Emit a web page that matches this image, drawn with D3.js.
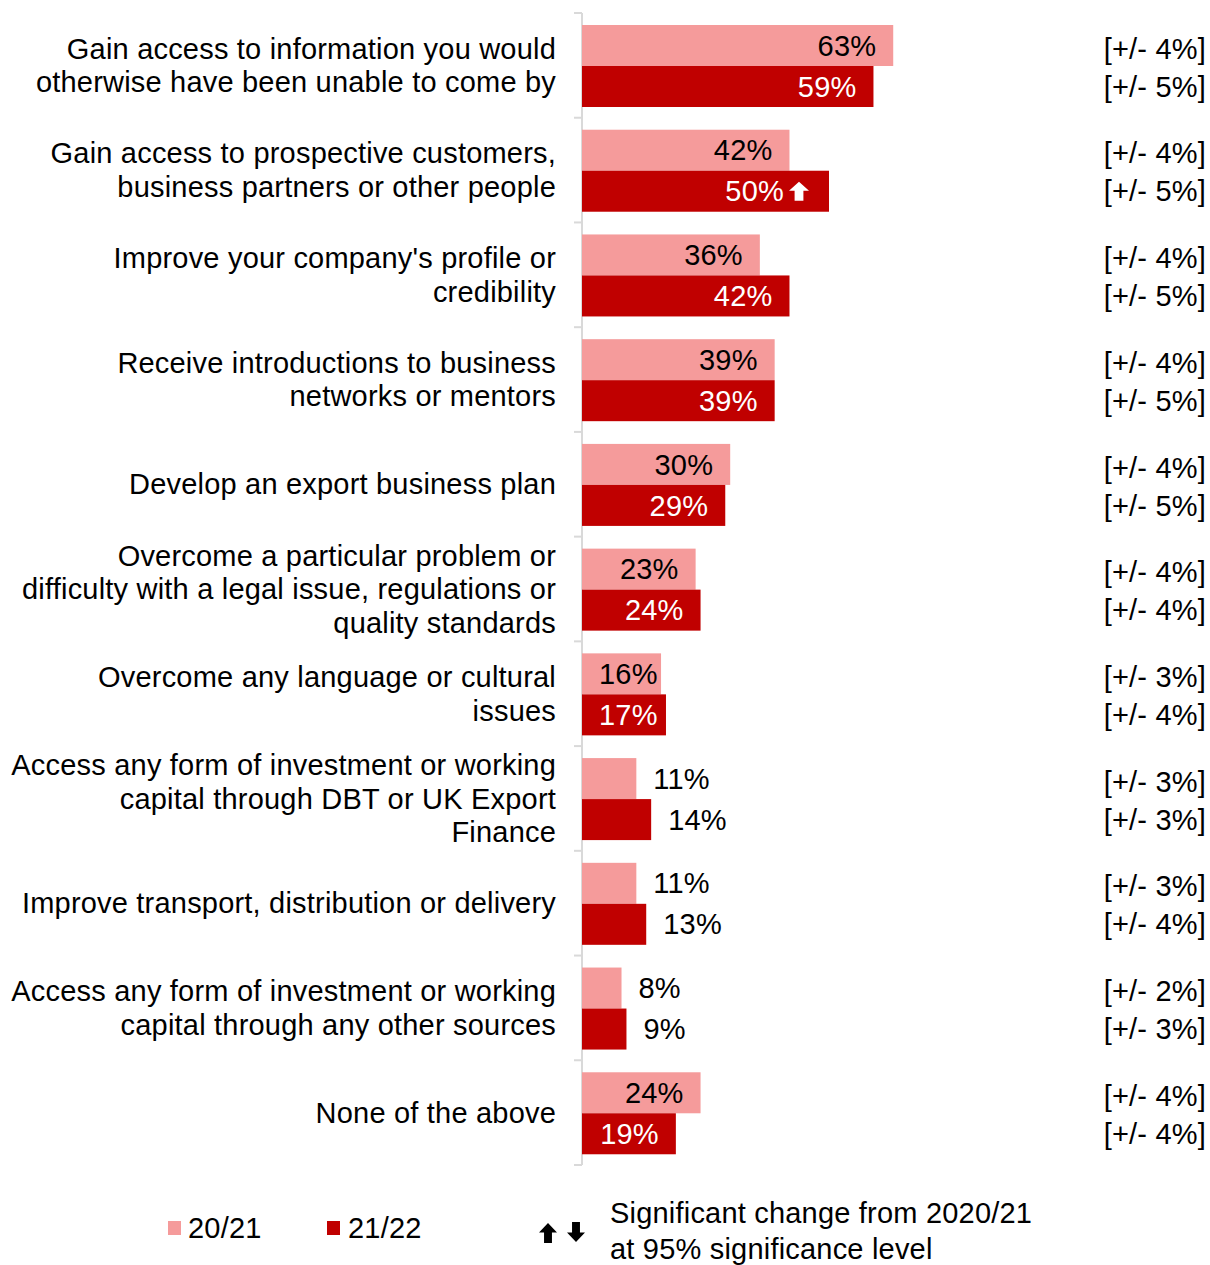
<!DOCTYPE html>
<html>
<head>
<meta charset="utf-8">
<script src="https://cdn.jsdelivr.net/npm/d3@7"></script>
<style>
  html, body { margin: 0; padding: 0; background: #fff; }
  svg { display: block; font-family: "Liberation Sans", Arial, sans-serif; letter-spacing: 0.2px; }
</style>
</head>
<body>
<svg id="chart" width="1210" height="1265"></svg>
<script>
// Reasons for using the service, share of respondents, two survey waves
const categories = [
  ["Gain access to information you would", "otherwise have been unable to come by"],
  ["Gain access to prospective customers,", "business partners or other people"],
  ["Improve your company's profile or", "credibility"],
  ["Receive introductions to business", "networks or mentors"],
  ["Develop an export business plan"],
  ["Overcome a particular problem or", "difficulty with a legal issue, regulations or", "quality standards"],
  ["Overcome any language or cultural", "issues"],
  ["Access any form of investment or working", "capital through DBT or UK Export", "Finance"],
  ["Improve transport, distribution or delivery"],
  ["Access any form of investment or working", "capital through any other sources"],
  ["None of the above"]
];
const seriesNames = ["20/21", "21/22"];
const values2021 = [63, 42, 36, 39, 30, 23, 16, 11, 11, 8, 24];
const values2122 = [59, 50, 42, 39, 29, 24, 17, 14, 13, 9, 19];
// Significant change flags for 21/22 vs 2020/21 ("up", "down" or null)
const sigChange = [null, "up", null, null, null, null, null, null, null, null, null];
const moe2021 = ["4%", "4%", "4%", "4%", "4%", "4%", "3%", "3%", "3%", "2%", "4%"];
const moe2122 = ["5%", "5%", "5%", "5%", "5%", "4%", "4%", "3%", "4%", "3%", "4%"];
const legendNote = ["Significant change from 2020/21", "at 95% significance level"];

const colors = { "20/21": "#f59b9b", "21/22": "#c00000" };
const FONT = 29;

const svg = d3.select("#chart");
const x0 = 582;
const x = d3.scaleLinear().domain([0, 100]).range([x0, x0 + 494]);
const idx = d3.range(categories.length);
const y = d3.scaleBand().domain(idx).range([13, 1165]).padding(0);
const yInner = d3.scaleBand().domain(seriesNames).range([12, 94]).padding(0);

const rows = idx.map(i => ({
  i,
  label: categories[i],
  bars: [
    { s: "20/21", v: values2021[i], moe: moe2021[i], sig: null },
    { s: "21/22", v: values2122[i], moe: moe2122[i], sig: sigChange[i] }
  ]
}));

// Category axis: light grey line with ticks at the band boundaries
const axisG = svg.append("g");
axisG.append("line")
  .attr("x1", x0).attr("x2", x0)
  .attr("y1", y.range()[0]).attr("y2", y.range()[1])
  .attr("stroke", "#d9d9d9").attr("stroke-width", 2);
const bounds = idx.map(i => y(i)).concat([y.range()[1]]);
axisG.selectAll("line.tick").data(bounds).join("line")
  .attr("class", "tick")
  .attr("x1", x0 - 8).attr("x2", x0)
  .attr("y1", d => d).attr("y2", d => d)
  .attr("stroke", "#d9d9d9").attr("stroke-width", 2);

// Category labels
const lineH = 33.5;
const labG = svg.append("g");
rows.forEach(r => {
  const cy = y(r.i) + y.bandwidth() / 2;
  const n = r.label.length;
  const t = labG.append("text")
    .attr("text-anchor", "end")
    .attr("font-size", FONT)
    .attr("fill", "#000");
  r.label.forEach((ln, k) => {
    t.append("tspan")
      .attr("x", 556)
      .attr("y", cy + (k - (n - 1) / 2) * lineH)
      .attr("dy", "0.35em")
      .text(ln);
  });
});

// Bars
const groups = svg.append("g").selectAll("g").data(rows).join("g")
  .attr("transform", d => `translate(0,${y(d.i)})`);

groups.selectAll("rect").data(d => d.bars).join("rect")
  .attr("x", x(0))
  .attr("y", d => yInner(d.s))
  .attr("width", d => x(d.v) - x(0))
  .attr("height", yInner.bandwidth())
  .attr("fill", d => colors[d.s]);

// Value labels: inside the bar end when wide enough, otherwise just past it.
// Inside labels never start closer than the padding to the bar's base.
const PAD = 17;
const inside = v => v >= 15;
groups.each(function(r) {
  const g = d3.select(this);
  r.bars.forEach(b => {
    const cy = yInner(b.s) + yInner.bandwidth() / 2;
    const end = x(b.v);
    const arrowW = b.sig ? 28 : 0;
    const txt = g.append("text")
      .attr("y", cy).attr("dy", "0.35em")
      .attr("font-size", FONT)
      .text(b.v + "%");
    if (inside(b.v)) {
      const w = txt.node().getComputedTextLength();
      const right = Math.max(end - PAD - arrowW, x0 + PAD + w);
      txt.attr("x", right)
        .attr("text-anchor", "end")
        .attr("fill", b.s === "21/22" ? "#fff" : "#000");
    } else {
      txt.attr("x", end + PAD).attr("text-anchor", "start").attr("fill", "#000");
    }
    if (b.sig) {
      const up = b.sig === "up";
      g.append("path")
        .attr("d", arrowPath(end - 30, cy, up, 20, 19))
        .attr("fill", inside(b.v) && b.s === "21/22" ? "#fff" : "#000");
    }
  });
});

// Margin-of-error column
groups.each(function(r) {
  const g = d3.select(this);
  r.bars.forEach((b, k) => {
    g.append("text")
      .attr("x", 1206)
      .attr("y", yInner(b.s) + yInner.bandwidth() / 2 + (k === 0 ? 3 : 0))
      .attr("dy", "0.35em")
      .attr("text-anchor", "end")
      .attr("font-size", FONT)
      .attr("fill", "#000")
      .text(`[+/- ${b.moe}]`);
  });
});

function arrowPath(cx, cy, up, w, h) {
  const s = up ? 1 : -1;
  const top = cy - s * h / 2, bot = cy + s * h / 2;
  const mid = cy - s * h * 0.02;
  const sw = w * 0.22;
  return `M${cx},${top} L${cx + w / 2},${mid} L${cx + sw},${mid} L${cx + sw},${bot}` +
         ` L${cx - sw},${bot} L${cx - sw},${mid} L${cx - w / 2},${mid} Z`;
}

// Legend
const leg = svg.append("g");
const legY = 1228;
[["20/21", 168, 188], ["21/22", 327, 348]].forEach(([s, sx, tx]) => {
  leg.append("rect").attr("x", sx).attr("y", legY - 7).attr("width", 13).attr("height", 14)
    .attr("fill", colors[s]);
  leg.append("text").attr("x", tx).attr("y", legY).attr("dy", "0.35em")
    .attr("font-size", FONT).attr("fill", "#000").text(s);
});
leg.append("path").attr("d", arrowPath(548, 1233, true, 18, 20)).attr("fill", "#000");
leg.append("path").attr("d", arrowPath(576, 1232, false, 18, 20)).attr("fill", "#000");
legendNote.forEach((ln, k) => {
  leg.append("text").attr("x", 610).attr("y", 1213 + k * 36).attr("dy", "0.35em")
    .attr("font-size", FONT).attr("fill", "#000").text(ln);
});
</script>
</body>
</html>
